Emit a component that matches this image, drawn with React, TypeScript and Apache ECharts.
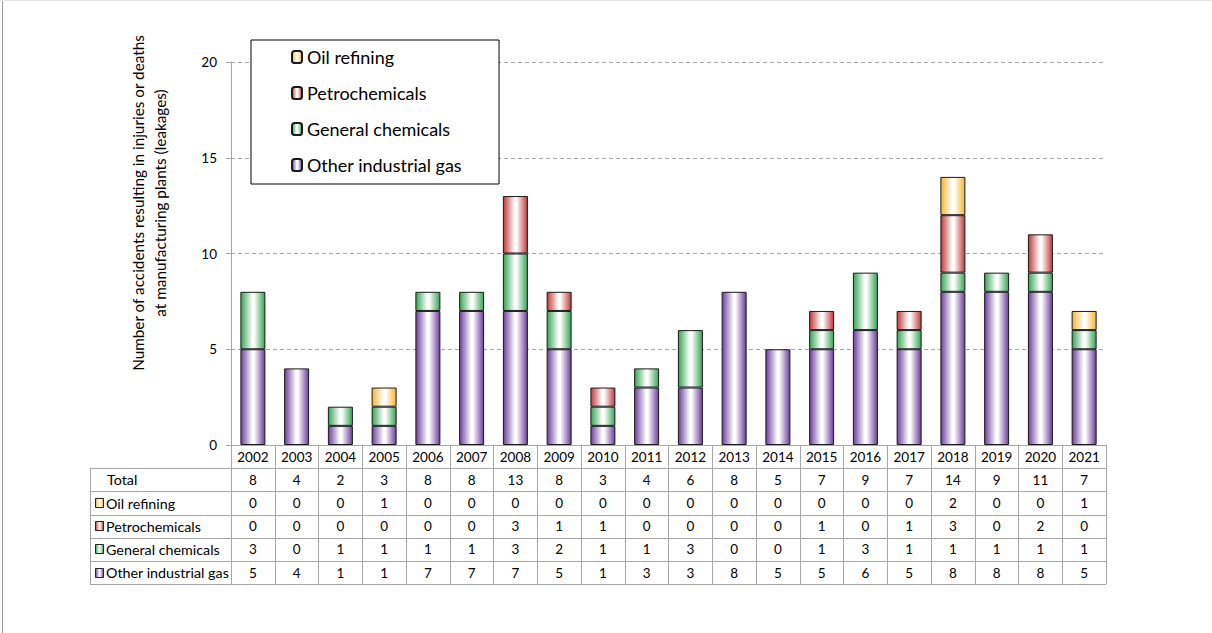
import React, { useEffect, useRef } from "react";
import * as echarts from "echarts";

const years = ["2002","2003","2004","2005","2006","2007","2008","2009","2010","2011","2012","2013","2014","2015","2016","2017","2018","2019","2020","2021"];
const totals = [8,4,2,3,8,8,13,8,3,4,6,8,5,7,9,7,14,9,11,7];
const oilRefining = [0,0,0,1,0,0,0,0,0,0,0,0,0,0,0,0,2,0,0,1];
const petrochemicals = [0,0,0,0,0,0,3,1,1,0,0,0,0,1,0,1,3,0,2,0];
const generalChemicals = [3,0,1,1,1,1,3,2,1,1,3,0,0,1,3,1,1,1,1,1];
const otherIndustrialGas = [5,4,1,1,7,7,7,5,1,3,3,8,5,5,6,5,8,8,8,5];
const yTicks = { min: 0, max: 20, interval: 5 };
const yName = "Number of accidents resulting in injuries or deaths\nat manufacturing plants (leakages)";

const W = 1212, H = 633;
const GL = 231, GR = 1106, GT = 62, GB = 445;
const ROW = 23.2;
const FONT = "Lato";

const grad = (edge: string) => ({
  type: "linear", x: 0, y: 0, x2: 1, y2: 0,
  colorStops: [
    { offset: 0, color: edge },
    { offset: 0.48, color: "#ffffff" },
    { offset: 0.55, color: "#ffffff" },
    { offset: 1, color: edge },
  ],
});

const seriesDefs = [
  { name: "Other industrial gas", data: otherIndustrialGas, edge: "#6b3f9c" },
  { name: "General chemicals", data: generalChemicals, edge: "#36a455" },
  { name: "Petrochemicals", data: petrochemicals, edge: "#c0393b" },
  { name: "Oil refining", data: oilRefining, edge: "#f6b531" },
];

export default function App() {
  const ref = useRef<HTMLDivElement>(null);
  useEffect(() => {
    if (!ref.current) return;
    const chart = echarts.init(ref.current, null, { renderer: "svg" });

    const tableRows = [totals, oilRefining, petrochemicals, generalChemicals, otherIndustrialGas];
    const rowLabels = [
      { text: "Total", edge: null as string | null },
      { text: "Oil refining", edge: "#f6b531" },
      { text: "Petrochemicals", edge: "#c0393b" },
      { text: "General chemicals", edge: "#36a455" },
      { text: "Other industrial gas", edge: "#6b3f9c" },
    ];

    const graphics: any[] = [
      { type: "line", shape: { x1: 2.5, y1: 0, x2: 2.5, y2: H }, style: { stroke: "#9a9a9a", lineWidth: 1 } },
      { type: "line", shape: { x1: 0, y1: 0.5, x2: W, y2: 0.5 }, style: { stroke: "#e6e6e6", lineWidth: 1 } },
      { type: "line", shape: { x1: 90.5, y1: GB + ROW, x2: 90.5, y2: GB + ROW * 6 }, style: { stroke: "#a6a6a6", lineWidth: 1 } },
      {
        type: "text", x: 149, y: 203, rotation: Math.PI / 2,
        style: { text: yName, fontFamily: FONT, fontSize: 15.3, lineHeight: 22, fill: "#000", textAlign: "center", textVerticalAlign: "middle" },
      },
    ];
    for (let k = 1; k <= 6; k++) {
      const y = Math.round(GB + ROW * k) + 0.5;
      graphics.push({ type: "line", shape: { x1: 90, y1: y, x2: GR, y2: y }, style: { stroke: "#a6a6a6", lineWidth: 1 } });
    }
    rowLabels.forEach((r, i) => {
      const cy = GB + ROW * (i + 1.5);
      if (r.edge) {
        graphics.push({ type: "rect", shape: { x: 95.5, y: Math.round(cy - 5) + 0.5, width: 8, height: 9 }, style: { fill: grad(r.edge), stroke: "#222", lineWidth: 1 } });
        graphics.push({ type: "text", x: 106, y: cy, style: { text: r.text, fontFamily: FONT, fontSize: 14.3, fill: "#000", textVerticalAlign: "middle" } });
      } else {
        graphics.push({ type: "text", x: 107, y: cy, style: { text: r.text, fontFamily: FONT, fontSize: 14.3, fill: "#000", textVerticalAlign: "middle" } });
      }
    });

    chart.setOption({
      animation: false,
      backgroundColor: "#fff",
      grid: { left: GL, right: W - GR, top: GT, bottom: H - GB, containLabel: false },
      legend: {
        orient: "vertical",
        left: 251,
        top: 40,
        selectedMode: false,
        data: ["Oil refining", "Petrochemicals", "General chemicals", "Other industrial gas"],
        backgroundColor: "#fff",
        borderColor: "#000",
        borderWidth: 1,
        padding: [8, 37, 10, 40],
        itemGap: 18,
        itemWidth: 10,
        itemHeight: 12,
        textStyle: { fontFamily: FONT, fontSize: 18, color: "#000" },
      },
      xAxis: {
        type: "category",
        data: years,
        axisLine: { show: true, lineStyle: { color: "#a6a6a6", width: 1 } },
        axisTick: { show: true, length: ROW * 6, lineStyle: { color: "#a6a6a6" } },
        axisLabel: {
          interval: 0,
          margin: 0,
          fontFamily: FONT,
          fontSize: 13.5,
          color: "#000",
          lineHeight: ROW,
          formatter: (v: string, i: number) =>
            [v, ...tableRows.map((row) => String(row[i]))].join("\n"),
        },
      },
      yAxis: {
        type: "value",
        min: yTicks.min,
        max: yTicks.max,
        interval: yTicks.interval,
        axisLine: { show: true, lineStyle: { color: "#a6a6a6" } },
        axisTick: { show: true, length: 5, lineStyle: { color: "#a6a6a6" } },
        axisLabel: { margin: 14, fontFamily: FONT, fontSize: 13.5, color: "#000" },
        splitLine: { show: true, lineStyle: { color: "#a6a6a6", type: [4, 3] } },
      },
      series: seriesDefs.map((s) => ({
        name: s.name,
        type: "bar",
        stack: "total",
        barWidth: 25,
        data: s.data.map((v) => (v === 0 ? "-" : v)),
        itemStyle: { color: grad(s.edge), borderColor: "#1a1a1a", borderWidth: 1 },
      })),
      graphic: graphics,
    });
    return () => chart.dispose();
  }, []);
  return <div ref={ref} style={{ position: "fixed", left: 0, top: 0, width: W, height: H }} />;
}
